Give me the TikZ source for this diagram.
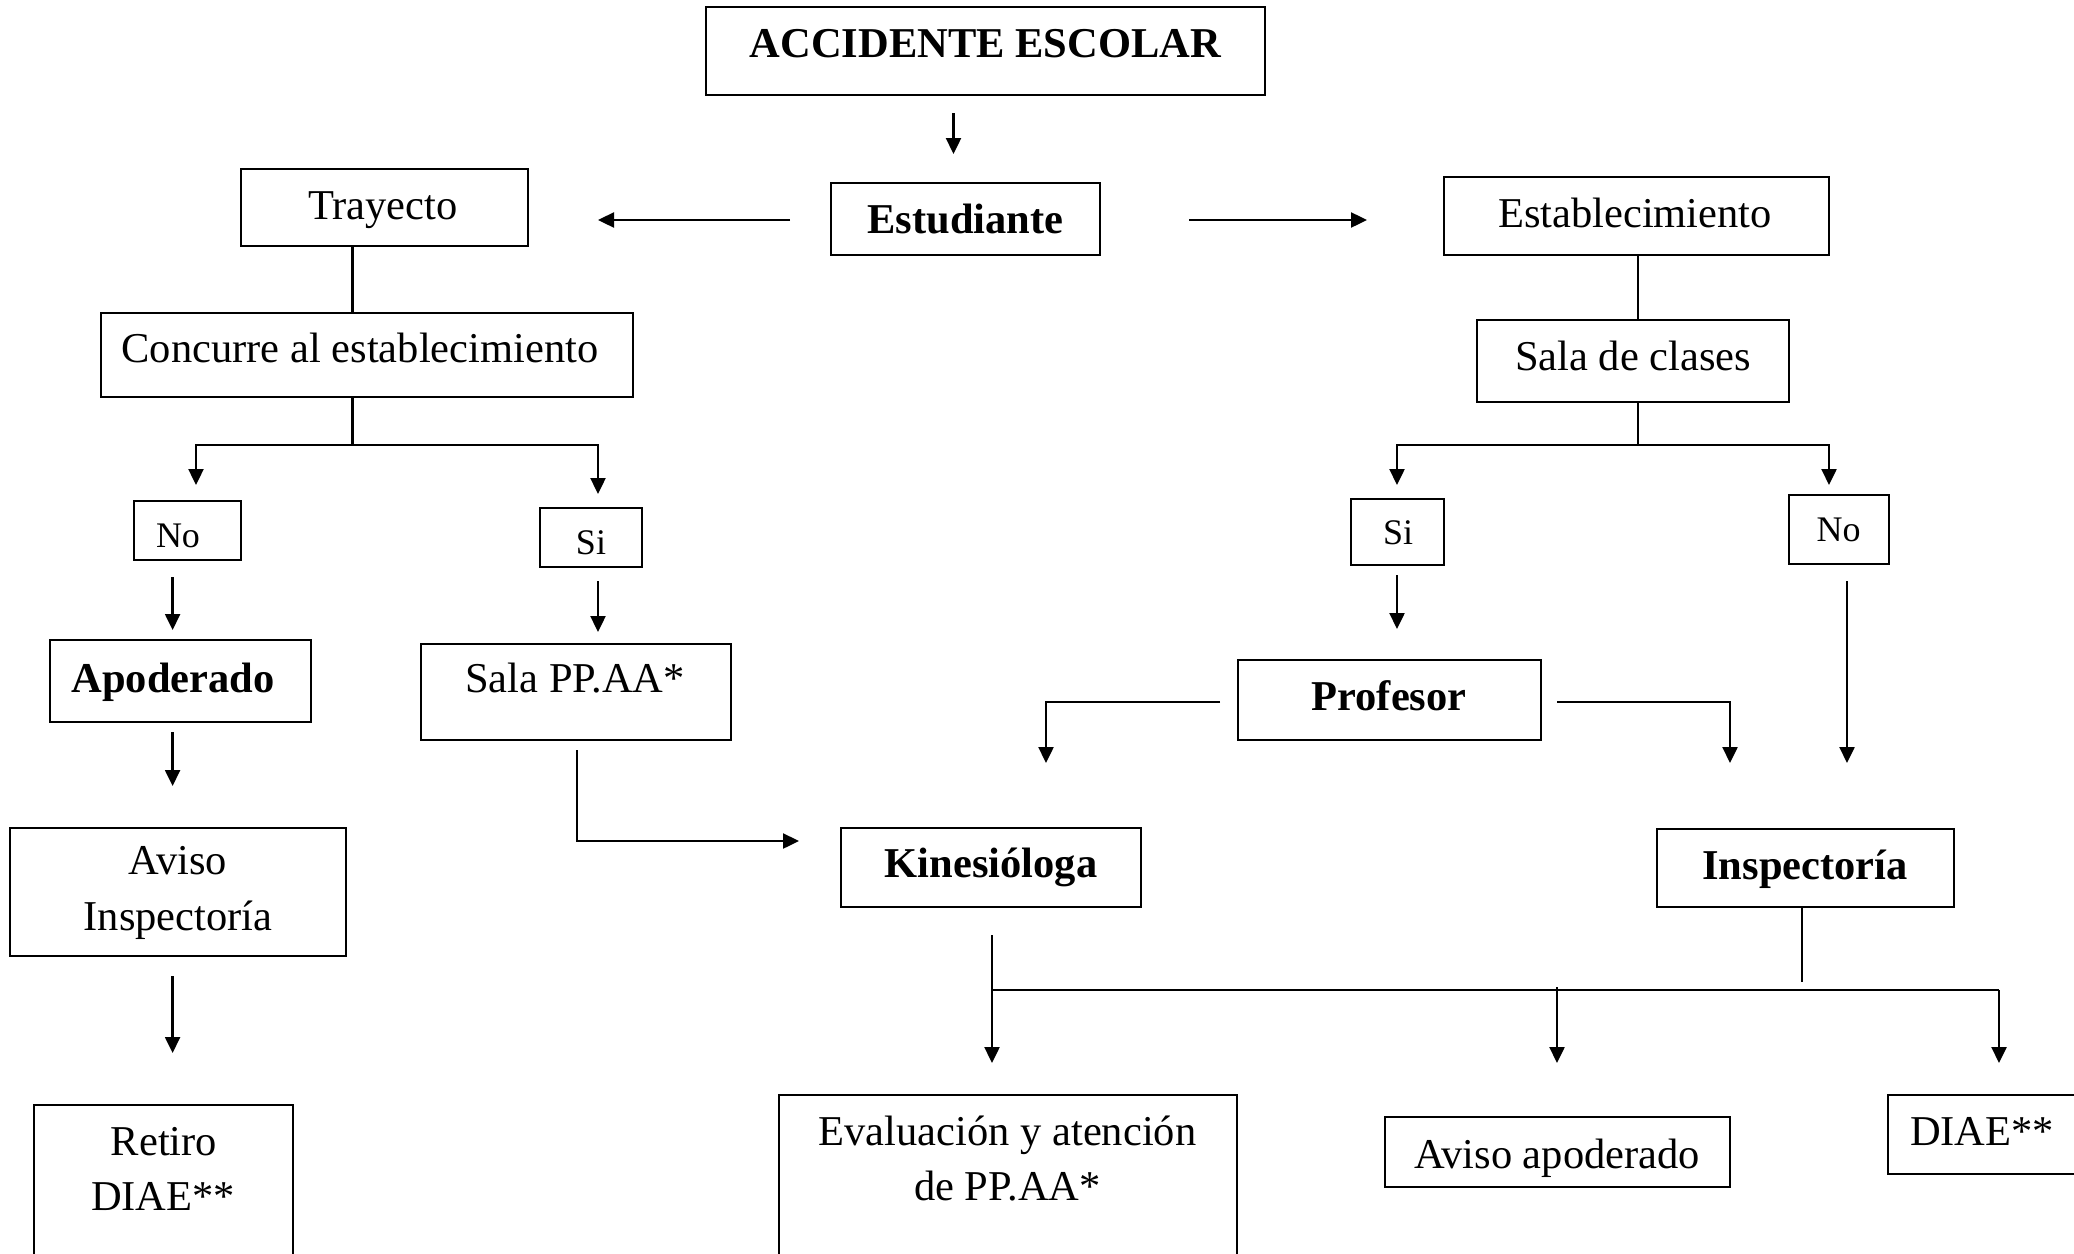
\documentclass[tikz,border=0pt]{standalone}
\usepackage{fontspec}
\setmainfont{Liberation Serif}
\usetikzlibrary{arrows.meta}
\tikzset{
  box/.style={draw, line width=2.8pt, inner sep=0pt, outer sep=0pt, anchor=north west},
  txt/.style={inner sep=0pt, anchor=base, font=\fontsize{42.5pt}{55pt}\selectfont},
  btxt/.style={txt, font=\fontsize{42.5pt}{55pt}\selectfont\bfseries},
  stxt/.style={txt, font=\fontsize{36pt}{44pt}\selectfont},
  ln/.style={line width=2.4pt},
  arr/.style={line width=2.4pt, -{Triangle[length=16pt,width=15pt]}}
}
\begin{document}
\begin{tikzpicture}[x=1pt,y=-1pt]
\useasboundingbox (0,0) rectangle (2074,1253);
\clip (0,0) rectangle (2074,1253);
% boxes
\node[box, minimum width=559pt, minimum height=88pt] (acc) at (706,7) {};
\node[box, minimum width=287pt, minimum height=77pt] (tray) at (241,169) {};
\node[box, minimum width=269pt, minimum height=72pt] (est) at (831,183) {};
\node[box, minimum width=385pt, minimum height=78pt] (estab) at (1444,177) {};
\node[box, minimum width=532pt, minimum height=84pt] (conc) at (101,313) {};
\node[box, minimum width=312pt, minimum height=82pt] (sala) at (1477,320) {};
\node[box, minimum width=107pt, minimum height=59pt] (noL) at (134,501) {};
\node[box, minimum width=102pt, minimum height=59pt] (siL) at (540,508) {};
\node[box, minimum width=93pt, minimum height=66pt] (siR) at (1351,499) {};
\node[box, minimum width=100pt, minimum height=69pt] (noR) at (1789,495) {};
\node[box, minimum width=261pt, minimum height=82pt] (apod) at (50,640) {};
\node[box, minimum width=310pt, minimum height=96pt] (spa) at (421,644) {};
\node[box, minimum width=303pt, minimum height=80pt] (prof) at (1238,660) {};
\node[box, minimum width=336pt, minimum height=128pt] (avisoI) at (10,828) {};
\node[box, minimum width=300pt, minimum height=79pt] (kin) at (841,828) {};
\node[box, minimum width=297pt, minimum height=78pt] (insp) at (1657,829) {};
\node[box, minimum width=259pt, minimum height=180pt] (retiro) at (34,1105) {};
\node[box, minimum width=458pt, minimum height=190pt] (eval) at (779,1095) {};
\node[box, minimum width=345pt, minimum height=70pt] (avap) at (1385,1117) {};
\node[box, minimum width=220pt, minimum height=79pt] (diae) at (1888,1095) {};
% texts
\node[btxt] (acc-t) at (985.5,57) {ACCIDENTE ESCOLAR};
\node[txt] (tray-t) at (383,219) {Trayecto};
\node[btxt] (est-t) at (965.5,233) {Estudiante};
\node[txt] (estab-t) at (1635,227) {Establecimiento};
\node[txt] (conc-t) at (360,362) {Concurre al establecimiento};
\node[txt] (sala-t) at (1633,370) {Sala de clases};
\node[stxt] (noL-t) at (178,547) {No};
\node[stxt] (siL-t) at (591,554) {Si};
\node[stxt] (siR-t) at (1398,544) {Si};
\node[stxt] (noR-t) at (1838.5,541) {No};
\node[btxt] (apod-t) at (173,692) {Apoderado};
\node[txt] (spa-t) at (575,692) {Sala PP.AA*};
\node[btxt] (prof-t) at (1389,710) {Profesor};
\node[txt] (avisoI-t1) at (178,874) {Aviso};
\node[txt] (avisoI-t2) at (178,930) {Inspectoría};
\node[btxt] (kin-t) at (991,877) {Kinesióloga};
\node[btxt] (insp-t) at (1805,879) {Inspectoría};
\node[txt] (retiro-t1) at (164,1155) {Retiro};
\node[txt] (retiro-t2) at (163,1210) {DIAE**};
\node[txt] (eval-t1) at (1007.5,1145) {Evaluación y atención};
\node[txt] (eval-t2) at (1007.5,1200) {de PP.AA*};
\node[txt] (avap-t) at (1557,1168) {Aviso apoderado};
\node[txt] (diae-t) at (1982,1145) {DIAE**};
% connector coordinates
\coordinate (a1s) at (953.5,113);   \coordinate (a1e) at (953.5,154);
\coordinate (a2s) at (790,220);   \coordinate (a2e) at (598,220);
\coordinate (a3s) at (1189,220);  \coordinate (a3e) at (1367,220);
\coordinate (j1) at (352.5,445);
\coordinate (b1e) at (196,485);   \coordinate (b2e) at (598,494);
\coordinate (j2) at (1638,445);
\coordinate (c1e) at (1397,485);  \coordinate (c2e) at (1829,485);
\coordinate (d1s) at (172.6,577); \coordinate (d1e) at (172.6,630);
\coordinate (d2s) at (598,581);   \coordinate (d2e) at (598,632);
\coordinate (d3s) at (1397,575);  \coordinate (d3e) at (1397,629);
\coordinate (d4s) at (1847,581);  \coordinate (d4e) at (1847,763);
\coordinate (p1s) at (1220,702);  \coordinate (p1e) at (1046,763);
\coordinate (p2s) at (1557,702);  \coordinate (p2e) at (1730,763);
\coordinate (e1s) at (172.6,732); \coordinate (e1e) at (172.6,786);
\coordinate (f1s) at (577,750);   \coordinate (f1e) at (799,841);
\coordinate (g1s) at (172.6,976); \coordinate (g1e) at (172.6,1053);
\coordinate (k1s) at (992,935);   \coordinate (k1e) at (992,1063);
\coordinate (k1m) at (992,990);   \coordinate (k2m) at (1999,990);
\coordinate (k2e) at (1999,1063);
\coordinate (k3s) at (1557,987);  \coordinate (k3e) at (1557,1063);
\coordinate (i1e) at (1802,982);
% connectors
\draw[arr] (a1s) -- (a1e);
\draw[arr] (a2s) -- (a2e);
\draw[arr] (a3s) -- (a3e);
\draw[ln] (tray.south -| j1) -- (conc.north -| j1);
\draw[ln] (conc.south -| j1) -- (j1);
\draw[arr] (j1) -| (b1e);
\draw[arr] (j1) -| (b2e);
\draw[ln] (estab.south -| j2) -- (sala.north -| j2);
\draw[ln] (sala.south -| j2) -- (j2);
\draw[arr] (j2) -| (c1e);
\draw[arr] (j2) -| (c2e);
\draw[arr] (d1s) -- (d1e);
\draw[arr] (d2s) -- (d2e);
\draw[arr] (d3s) -- (d3e);
\draw[arr] (d4s) -- (d4e);
\draw[arr] (p1s) -| (p1e);
\draw[arr] (p2s) -| (p2e);
\draw[arr] (e1s) -- (e1e);
\draw[arr] (f1s) |- (f1e);
\draw[arr] (g1s) -- (g1e);
\draw[arr] (k1s) -- (k1e);
\draw[ln] (k1m) -- (k2m);
\draw[arr] (k2m) -- (k2e);
\draw[arr] (k3s) -- (k3e);
\draw[ln] (insp.south -| i1e) -- (i1e);
\end{tikzpicture}
\end{document}
